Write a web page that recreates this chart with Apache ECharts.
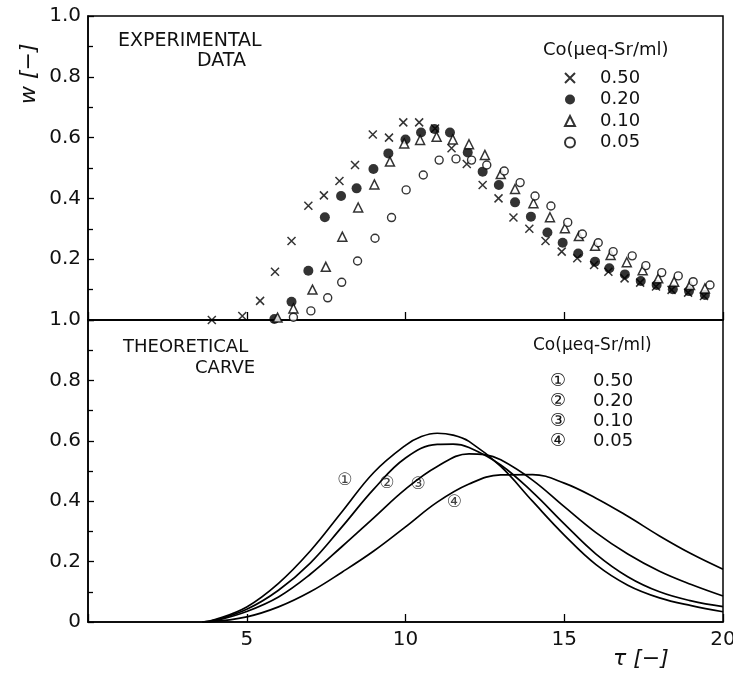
<!DOCTYPE html>
<html><head><meta charset="utf-8">
<script src="https://cdn.jsdelivr.net/npm/echarts@6/dist/echarts.min.js"></script>
<style>html,body{margin:0;padding:0;background:#fff}#c{width:733px;height:676px}</style>
</head><body><div id="c"></div>
<script>
// ---------- data ----------
const concLabels = ['0.50', '0.20', '0.10', '0.05'];
const curveTags = ['①', '②', '③', '④'];
const yTickLabelsTop = ['', '0.2', '0.4', '0.6', '0.8', '1.0'];
const yTickLabelsBottom = ['0', '0.2', '0.4', '0.6', '0.8', '1.0'];
const xTickLabels = ['', '5', '10', '15', '20'];

// experimental data (upper panel)
const cross_t = [3.9, 4.86, 5.42, 5.89, 6.41, 6.94, 7.43, 7.92, 8.41, 8.97, 9.48, 9.93, 10.43, 10.93, 11.45, 11.93, 12.43, 12.93, 13.4, 13.9, 14.41, 14.92, 15.41, 15.94, 16.39, 16.9, 17.39, 17.89, 18.38, 18.9, 19.4];
const cross_w = [0, 0.013, 0.063, 0.159, 0.26, 0.376, 0.41, 0.457, 0.51, 0.61, 0.60, 0.65, 0.65, 0.63, 0.565, 0.513, 0.444, 0.40, 0.337, 0.30, 0.26, 0.225, 0.203, 0.181, 0.159, 0.137, 0.123, 0.11, 0.099, 0.09, 0.079];

const dot_t = [5.87, 6.41, 6.94, 7.46, 7.97, 8.46, 8.99, 9.46, 10.0, 10.49, 10.91, 11.4, 11.96, 12.43, 12.94, 13.45, 13.95, 14.47, 14.95, 15.44, 15.97, 16.42, 16.91, 17.41, 17.91, 18.42, 18.93, 19.43];
const dot_w = [0.003, 0.06, 0.162, 0.338, 0.408, 0.433, 0.497, 0.548, 0.594, 0.617, 0.628, 0.617, 0.551, 0.488, 0.444, 0.387, 0.34, 0.288, 0.254, 0.219, 0.192, 0.17, 0.15, 0.128, 0.115, 0.101, 0.095, 0.082];

const tri_t = [5.97, 6.47, 7.07, 7.49, 8.01, 8.51, 9.02, 9.51, 9.96, 10.46, 10.98, 11.49, 12.0, 12.5, 13.0, 13.45, 14.03, 14.55, 15.02, 15.46, 15.97, 16.46, 16.97, 17.47, 17.96, 18.46, 18.96, 19.43];
const tri_w = [0.008, 0.038, 0.10, 0.175, 0.274, 0.37, 0.446, 0.521, 0.581, 0.592, 0.603, 0.594, 0.578, 0.543, 0.48, 0.431, 0.384, 0.338, 0.302, 0.276, 0.244, 0.214, 0.19, 0.164, 0.137, 0.126, 0.115, 0.104];

const ring_t = [6.47, 7.02, 7.55, 7.99, 8.49, 9.04, 9.56, 10.02, 10.56, 11.06, 11.59, 12.08, 12.56, 13.11, 13.61, 14.08, 14.58, 15.11, 15.57, 16.07, 16.54, 17.14, 17.57, 18.07, 18.59, 19.06, 19.59];
const ring_w = [0.009, 0.03, 0.073, 0.124, 0.194, 0.269, 0.337, 0.428, 0.477, 0.526, 0.53, 0.526, 0.51, 0.49, 0.452, 0.408, 0.375, 0.321, 0.283, 0.254, 0.225, 0.211, 0.179, 0.156, 0.145, 0.126, 0.115];

// theoretical curves (lower panel)
const c1_t = [3.6, 4, 5, 6, 7, 8, 9, 10, 10.5, 11, 11.5, 12, 13, 14, 15, 16, 17, 18, 19, 20];
const c1_w = [0, 0.008, 0.05, 0.128, 0.235, 0.365, 0.495, 0.585, 0.614, 0.625, 0.619, 0.598, 0.515, 0.40, 0.288, 0.19, 0.122, 0.08, 0.054, 0.034];
const c2_t = [3.6, 4, 5, 6, 7, 8, 9, 10, 11, 11.5, 12, 13, 14, 15, 16, 17, 18, 19, 20];
const c2_w = [0, 0.006, 0.042, 0.105, 0.195, 0.315, 0.44, 0.543, 0.588, 0.589, 0.578, 0.52, 0.43, 0.325, 0.225, 0.15, 0.10, 0.07, 0.051];
const c3_t = [3.7, 4, 5, 6, 7, 8, 9, 10, 11, 12, 12.5, 13, 14, 15, 16, 17, 18, 19, 20];
const c3_w = [0, 0.004, 0.035, 0.083, 0.158, 0.25, 0.345, 0.44, 0.515, 0.557, 0.554, 0.537, 0.47, 0.382, 0.296, 0.225, 0.168, 0.124, 0.086];
const c4_t = [3.8, 5, 6, 7, 8, 9, 10, 11, 12, 13, 14, 15, 16, 17, 18, 19, 20];
const c4_w = [0, 0.017, 0.05, 0.10, 0.165, 0.235, 0.315, 0.397, 0.457, 0.487, 0.488, 0.46, 0.41, 0.35, 0.285, 0.226, 0.175];

// curve tag positions (τ, w)
const tag_t = [8.09, 9.41, 10.4, 11.54];
const tag_w = [0.468, 0.459, 0.454, 0.397];

// ---------- chart ----------
const FONT = 'DejaVu Sans';
const INK = '#111';
const zip = (a, b) => a.map((v, i) => [v, b[i]]);

const chart = echarts.init(document.getElementById('c'), null, { renderer: 'canvas' });

function xAxis(gi, showLabels) {
  return {
    gridIndex: gi, type: 'value', min: 0, max: 20, interval: 5,
    axisLine: { show: true, onZero: false, lineStyle: { color: '#000', width: 1.5 } },
    axisTick: { show: true, inside: true, length: 8, lineStyle: { color: '#000', width: 1.3 } },
    axisLabel: {
      show: showLabels, margin: 8, color: INK, fontFamily: FONT, fontSize: 20,
      formatter: v => xTickLabels[Math.round(v / 5)]
    },
    splitLine: { show: false }
  };
}
function yAxis(gi, labels) {
  return {
    gridIndex: gi, type: 'value', min: 0, max: 1, interval: 0.2,
    axisLine: { show: true, lineStyle: { color: '#000', width: 1.5 } },
    axisTick: { show: true, inside: true, length: 6, lineStyle: { color: '#000', width: 1.3 } },
    minorTick: { show: true, splitNumber: 2, length: 5, lineStyle: { color: '#000', width: 1.3 } },
    axisLabel: {
      margin: 7, color: INK, fontFamily: FONT, fontSize: 20,
      formatter: v => labels[Math.round(v / 0.2)]
    },
    splitLine: { show: false }
  };
}

const crossPath = 'path://M0,0L10,10M10,0L0,10';
const scatterSeries = [
  { name: concLabels[0], data: zip(cross_t, cross_w), symbol: crossPath, symbolSize: 8,
    itemStyle: { color: 'rgba(0,0,0,0)', borderColor: '#000', borderWidth: 1.5 } },
  { name: concLabels[1], data: zip(dot_t, dot_w), symbol: 'circle', symbolSize: 10,
    itemStyle: { color: '#000', borderColor: '#000', borderWidth: 0 } },
  { name: concLabels[2], data: zip(tri_t, tri_w), symbol: 'triangle', symbolSize: 9,
    itemStyle: { color: '#fff', borderColor: '#000', borderWidth: 1.5 } },
  { name: concLabels[3], data: zip(ring_t, ring_w), symbol: 'circle', symbolSize: 8,
    itemStyle: { color: '#fff', borderColor: '#000', borderWidth: 1.4 } }
].map(s => Object.assign({ type: 'scatter', xAxisIndex: 0, yAxisIndex: 0, z: 5 }, s));

const curveData = [zip(c1_t, c1_w), zip(c2_t, c2_w), zip(c3_t, c3_w), zip(c4_t, c4_w)];
const lineSeries = curveData.map((d, i) => ({
  type: 'line', name: curveTags[i], xAxisIndex: 1, yAxisIndex: 1,
  data: d, smooth: 0.4, showSymbol: false, symbol: 'none',
  lineStyle: { color: '#000', width: 1.7 }
}));

const tagSeries = {
  type: 'scatter', xAxisIndex: 1, yAxisIndex: 1, silent: true,
  data: tag_t.map((t, i) => [t, tag_w[i], curveTags[i]]),
  symbol: 'circle', symbolSize: 1, itemStyle: { color: 'rgba(0,0,0,0)' },
  label: { show: true, position: 'inside', formatter: p => p.data[2],
    color: INK, fontFamily: FONT, fontSize: 17 }
};

chart.setOption({
  animation: false,
  backgroundColor: '#fff',
  grid: [
    { left: 88, right: 10, top: 16, height: 304, show: true, borderColor: '#000', borderWidth: 1.5, outerBoundsMode: 'none', containLabel: false },
    { left: 88, right: 10, top: 320, height: 302, show: true, borderColor: '#000', borderWidth: 1.5, outerBoundsMode: 'none', containLabel: false }
  ],
  xAxis: [xAxis(0, false), xAxis(1, true)],
  yAxis: [yAxis(0, yTickLabelsTop), yAxis(1, yTickLabelsBottom)],
  legend: [
    {
      data: concLabels, orient: 'vertical', left: 559, top: 64,
      itemWidth: 10, itemHeight: 10, itemGap: 3.5,
      textStyle: { color: INK, fontFamily: FONT, fontSize: 18, padding: [0, 0, 0, 20] },
      selectedMode: false
    },
    {
      data: curveTags, orient: 'vertical', left: 540, top: 367,
      itemWidth: 0, itemHeight: 0, itemGap: 2, icon: 'none',
      formatter: n => '{a|' + n + '}{b|' + concLabels[curveTags.indexOf(n)] + '}',
      textStyle: { color: INK, fontFamily: FONT, fontSize: 18,
        rich: { a: { fontSize: 18, width: 43, fontFamily: FONT }, b: { fontSize: 18, fontFamily: FONT } } },
      selectedMode: false
    }
  ],
  graphic: [
    { type: 'text', left: 118, top: 32, style: { text: 'EXPERIMENTAL', font: '19px "DejaVu Sans"', fill: INK } },
    { type: 'text', left: 197, top: 52, style: { text: 'DATA', font: '19px "DejaVu Sans"', fill: INK } },
    { type: 'text', left: 123, top: 338, style: { text: 'THEORETICAL', font: '18px "DejaVu Sans"', fill: INK } },
    { type: 'text', left: 195, top: 359, style: { text: 'CARVE', font: '18px "DejaVu Sans"', fill: INK } },
    { type: 'text', left: 543, top: 41, style: { text: 'Co(μeq-Sr/ml)', font: '18px "DejaVu Sans"', fill: INK } },
    { type: 'text', left: 533, top: 337, style: { text: 'Co(μeq-Sr/ml)', font: '17px "DejaVu Sans"', fill: INK } },
    { type: 'text', left: 613, top: 648, style: { text: 'τ [−]', font: 'italic 22px "DejaVu Sans"', fill: INK } },
    { type: 'text', x: 18, y: 104, rotation: Math.PI / 2,
      style: { text: 'w [−]', font: 'italic 22px "DejaVu Sans"', fill: INK } }
  ],
  series: [...scatterSeries, ...lineSeries, tagSeries]
});
</script>
</body></html>
